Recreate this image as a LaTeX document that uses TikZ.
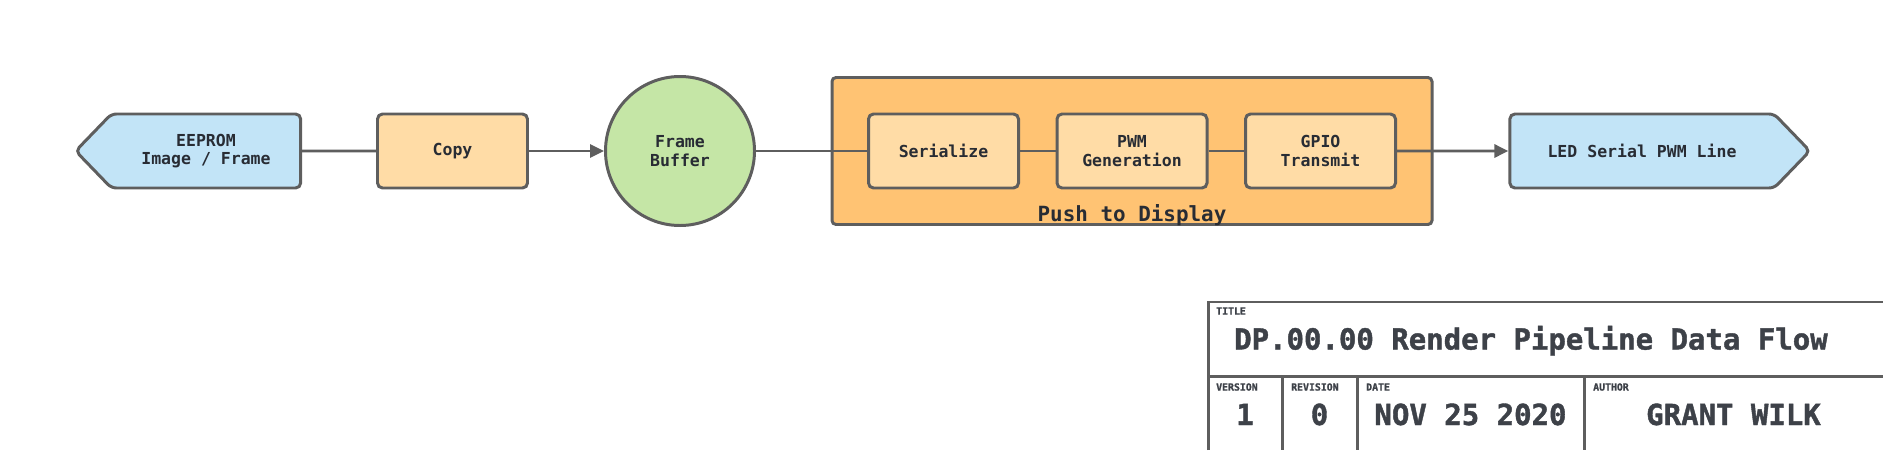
\documentclass[tikz,border=0pt]{standalone}
\usepackage{fontspec}
\setmonofont{DejaVu Sans Mono}
\newfontfamily\tbfont[FakeBold=1.4]{DejaVu Sans Mono Bold}
\usetikzlibrary{arrows.meta,positioning,shapes,calc}
\definecolor{dfblue}{RGB}{194,228,247}
\definecolor{dftan}{RGB}{255,220,166}
\definecolor{dforange}{RGB}{255,195,115}
\definecolor{dfgreen}{RGB}{197,230,166}
\definecolor{dfedge}{RGB}{94,94,94}
\definecolor{dfink}{RGB}{40,44,52}

\begin{document}
\begin{tikzpicture}[every node/.style={font=\ttfamily\bfseries\fontsize{9.4}{10.6}\selectfont,text=dfink},
      box/.style={draw=dfedge,line width=1.7pt,rounded corners=0.1cm,fill=dftan,minimum width=3.0cm,minimum height=1.48cm,align=center},
      port/.style={box,fill=dfblue,shape=signal,signal pointer angle=92},
      grp/.style={draw=dfedge,line width=1.7pt,rounded corners=0.08cm,fill=dforange,minimum width=12.0cm,minimum height=2.94cm},
      flow/.style={draw=dfedge,line width=1.7pt},
      tb/.style={draw=dfedge,line width=1.7pt},
      tblabel/.style={anchor=west,font=\tbfont\fontsize{5.6}{6}\selectfont,text=dfink!90},
      tbvalue/.style={anchor=base,font=\tbfont\fontsize{16.5}{18}\selectfont,text=dfink!90}]
    \useasboundingbox (0,0) rectangle (37.66,-9);
    % Data path
    \node[port,signal to=west,minimum width=4.5cm] (eeprom) at (4.12,-3.02) {EEPROM\\Image / Frame};
    \node[box] (copy) at (9.05,-3.02) {Copy};
    \node[box,circle,fill=dfgreen,minimum size=2.98cm] (fb) at (13.6,-3.02) {Frame\\Buffer};
    % Push to Display group
    \node[grp] (push) at (22.64,-3.02) {};
    \node[anchor=base,font=\ttfamily\bfseries\fontsize{11.9}{13}\selectfont] (pushlbl) at (22.64,-4.42) {Push to Display};
    \node[box] (ser)  at (18.87,-3.02) {Serialize};
    \node[box] (pwm)  at (22.64,-3.02) {PWM\\Generation};
    \node[box] (gpio) at (26.41,-3.02) {GPIO\\Transmit};
    \node[port,signal to=east,minimum width=6.0cm] (led) at (32.84,-3.02) {LED Serial PWM Line};
    \foreach \a/\b in {eeprom/copy,fb/ser,ser/pwm,pwm/gpio}{\draw[flow](\a)--(\b);}
    \foreach \a/\b in {copy/fb,gpio/led}{\draw[flow,-{Triangle[length=0.28cm,width=0.26cm]}](\a)--(\b);}
    % Title block
    \draw[tb] (24.16,-9) -- (24.16,-6.04) -- (37.66,-6.04);
    \draw[tb] (24.16,-7.52) -- (37.66,-7.52);
    \foreach \x in {25.64,27.14,31.68}{\draw[tb] (\x,-7.52) -- (\x,-9);}
    \node[tblabel] (ttl) at (24.2,-6.22) {TITLE};
    \node[tbvalue,anchor=base west] (ttlv) at (24.56,-6.99) {DP.00.00 Render Pipeline Data Flow};
    \node[tblabel] (ver) at (24.2,-7.74) {VERSION};
    \node[tblabel] (rev) at (25.7,-7.74) {REVISION};
    \node[tblabel] (dat) at (27.2,-7.74) {DATE};
    \node[tblabel] (aut) at (31.74,-7.74) {AUTHOR};
    \node[tbvalue] (verv) at (24.9,-8.5) {1};
    \node[tbvalue] (revv) at (26.39,-8.5) {0};
    \node[tbvalue] (datv) at (29.41,-8.5) {NOV 25 2020};
    \node[tbvalue] (autv) at (34.67,-8.5) {GRANT WILK};
  \end{tikzpicture}
\end{document}
